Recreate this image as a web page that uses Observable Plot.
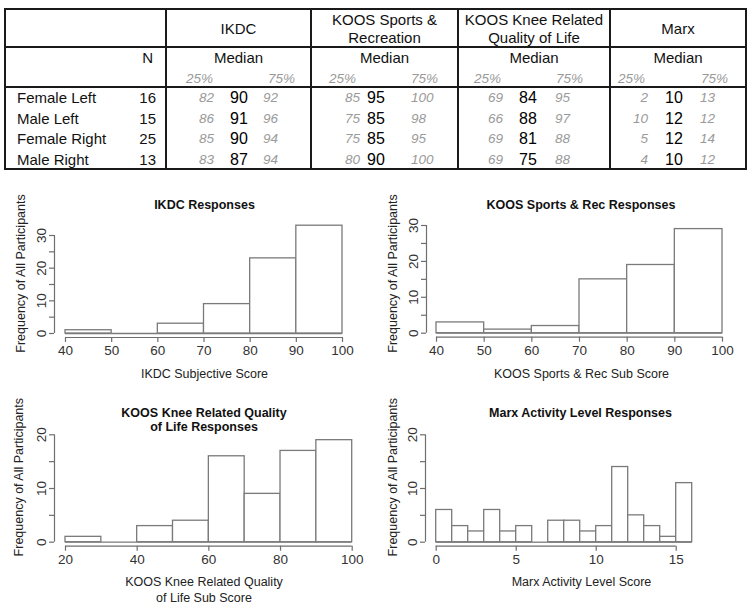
<!DOCTYPE html>
<html><head><meta charset="utf-8">
<script src="https://cdn.jsdelivr.net/npm/d3@7"></script>
<script src="https://cdn.jsdelivr.net/npm/@observablehq/plot@0.6"></script>
<style>
body{margin:0;background:#fff;font-family:"Liberation Sans",Arial,Helvetica,sans-serif;}
#wrap{position:relative;width:750px;height:604px;overflow:hidden;background:#fff;}
.t{position:absolute;white-space:nowrap;line-height:18px;height:18px;color:#111;font-size:15px;}
.q{color:#9a9a9a;font-style:italic;font-size:13.5px;}
.m{font-size:16px;color:#000;}
.ln{position:absolute;background:#1a1a1a;}
.panel{position:absolute;}
</style></head><body><div id="wrap"></div>
<script>
// ---------- table data ----------
const rowLabels = ["Female Left","Male Left","Female Right","Male Right"];
const nValues = [16,15,25,13];
const measureHeaders = [["IKDC"],["KOOS Sports &","Recreation"],["KOOS Knee Related","Quality of Life"],["Marx"]];
const ikdc25 = [82,86,85,83], ikdcMed = [90,91,90,87], ikdc75 = [92,96,94,94];
const sports25 = [85,75,75,80], sportsMed = [95,85,85,90], sports75 = [100,98,95,100];
const qol25 = [69,66,69,69], qolMed = [84,88,81,75], qol75 = [95,97,88,88];
const marx25 = [2,10,5,4], marxMed = [10,12,12,10], marx75 = [13,12,14,12];
const subHeaders = ["N","Median","25%","75%"];

// ---------- histogram data ----------
const ikdcBins = [40,50,60,70,80,90,100];
const ikdcCounts = [1,0,3,9,23,33];
const sportsBins = [40,50,60,70,80,90,100];
const sportsCounts = [3,1,2,15,19,29];
const qolBins = [20,30,40,50,60,70,80,90,100];
const qolCounts = [1,0,3,4,16,9,17,19];
const marxBins = [0,1,2,3,4,5,6,7,8,9,10,11,12,13,14,15,16];
const marxCounts = [6,3,2,6,2,3,0,4,4,2,3,14,5,3,1,11];

const wrap = document.getElementById("wrap");

// ---------- table ----------
function put(text, x, y, align, cls){
  const d = document.createElement("div");
  d.className = "t " + (cls||"");
  d.textContent = text;
  d.style.top = (y - 9) + "px";
  if(align === "l"){ d.style.left = x + "px"; }
  else if(align === "r"){ d.style.right = (750 - x) + "px"; }
  else { d.style.left = x + "px"; d.style.transform = "translateX(-50%)"; }
  wrap.appendChild(d);
}
function line(x, y, w, h){
  const d = document.createElement("div");
  d.className = "ln";
  Object.assign(d.style, {left:x+"px", top:y+"px", width:w+"px", height:h+"px"});
  wrap.appendChild(d);
}
const T = 8, B = 168, L = 4, R = 745;
line(L, T, R - L + 2, 2); line(L, B, R - L + 2, 2);
line(L, T, 2, B - T + 2); line(R, T, 2, B - T + 2);
line(L, 46, R - L + 2, 2); line(L, 86, R - L + 2, 2);
const colEdges = [165, 310, 457, 609];
colEdges.forEach(x => line(x, T, 2, B - T + 2));

const groupLayout = [
  {c:238.5, q25:214, med:239, q75:263, h25:186, h75:295},
  {c:384.5, q25:360, med:376, q75:411, h25:329, h75:438},
  {c:534,   q25:503, med:528, q75:555, h25:474, h75:583},
  {c:678,   q25:648, med:674, q75:700, h25:618, h75:728}
];
const groupData = [
  [ikdc25, ikdcMed, ikdc75],
  [sports25, sportsMed, sports75],
  [qol25, qolMed, qol75],
  [marx25, marxMed, marx75]
];
const rowY = [98, 119, 139, 160];
measureHeaders.forEach((h, i) => {
  const g = groupLayout[i];
  if(h.length === 1) put(h[0], g.c, 29, "c");
  else { put(h[0], g.c, 20, "c"); put(h[1], g.c, 38, "c"); }
  put(subHeaders[1], g.c, 58, "c");
  put(subHeaders[2], g.h25, 79, "l", "q");
  put(subHeaders[3], g.h75, 79, "r", "q");
  const [a, m, b] = groupData[i];
  rowY.forEach((y, r) => {
    put(String(a[r]), g.q25, y, "r", "q");
    put(String(m[r]), g.med, y, "c", "m");
    put(String(b[r]), g.q75, y, "l", "q");
  });
});
put(subHeaders[0], 153, 58, "r");
rowY.forEach((y, r) => {
  put(rowLabels[r], 17, y, "l");
  put(String(nValues[r]), 156, y, "r");
});

// ---------- histograms ----------
const FONT = '"Liberation Sans",Arial,Helvetica,sans-serif';
const AX = "#6e6e6e";
function hist(cfg){
  const data = cfg.counts.map((c, i) => ({x1: cfg.bins[i], x2: cfg.bins[i+1], count: c}));
  const {mL, mR, mT, mB} = cfg;
  const xt = cfg.xTicks, yt = cfg.yTicks;
  const at = (px, py) => ({frameAnchor:"top-left", textAnchor:"middle", lineAnchor:"middle", dx: px - mL, dy: py - mT});
  const marks = [
    Plot.ruleY(data, {x1:"x1", x2:"x2", y:0, stroke:"#7a7a7a", strokeWidth:1.3}),
    Plot.rectY(data, {x1:"x1", x2:"x2", y:"count", fill:"white", stroke:"#7a7a7a", strokeWidth:1.3}),
    Plot.ruleY([0], {x1: xt[0], x2: xt[xt.length-1], dy: 4, stroke: AX, strokeWidth:1.2}),
    Plot.axisX({ticks: xt, tickSize: 5, tickPadding: 3, dy: 4, stroke: AX, strokeWidth:1.2, label: null, tickFormat: d => String(d), fontSize: 13.5, fill: "#333"}),
    Plot.ruleX([cfg.bins[0]], {y1: yt[0], y2: yt[yt.length-1], dx: cfg.axDx, stroke: AX, strokeWidth:1.2}),
    Plot.axisY({ticks: yt, tickSize: 5, tickPadding: 4, dx: cfg.axDx, tickRotate: -90, stroke: AX, strokeWidth:1.2, label: null,
      tickFormat: d => cfg.yLabels.includes(d) ? String(d) : "", fontSize: 13.5, fill: "#333"}),
    Plot.text([cfg.title], {...at(cfg.titlePos[0], cfg.titlePos[1]), fontWeight: "bold", fontSize: 12.5, lineHeight: 1.15, fill: "#111"}),
    Plot.text([cfg.xLabel], {...at(cfg.xLabelPos[0], cfg.xLabelPos[1]), fontSize: 12.5, lineHeight: 1.3, fill: "#222"}),
    Plot.text([cfg.yLabel], {...at(cfg.yLabelPos[0], cfg.yLabelPos[1]), rotate: -90, fontSize: 12.5, fill: "#222"})
  ];
  const svg = Plot.plot({
    width: 375, height: cfg.h,
    marginLeft: mL, marginRight: mR, marginTop: mT, marginBottom: mB,
    x: {domain: [cfg.bins[0], cfg.bins[cfg.bins.length-1]]},
    y: {domain: [yt[0], yt[yt.length-1]]},
    style: {fontFamily: FONT, fontSize: "12.5px", background: "transparent", overflow: "visible"},
    marks
  });
  const holder = document.createElement("div");
  holder.className = "panel";
  holder.style.left = cfg.left + "px";
  holder.style.top = cfg.top + "px";
  holder.appendChild(svg);
  wrap.appendChild(holder);
}

const yLabel = "Frequency of All Participants";
hist({bins: ikdcBins, counts: ikdcCounts, left: 0, top: 180, h: 205, mL: 65, mR: 33, mT: 55, mB: 52, axDx: -11,
  xTicks: [40,50,60,70,80,90,100], yTicks: [0,5,10,15,20,25,30], yLabels: [0,10,20,30],
  title: "IKDC Responses", titlePos: [204, 24], xLabel: "IKDC Subjective Score", xLabelPos: [204, 192],
  yLabel, yLabelPos: [20, 93]});
hist({bins: sportsBins, counts: sportsCounts, left: 375, top: 180, h: 205, mL: 61, mR: 28, mT: 45, mB: 52.3, axDx: -10,
  xTicks: [40,50,60,70,80,90,100], yTicks: [0,5,10,15,20,25,30], yLabels: [0,10,20,30],
  title: "KOOS Sports & Rec Responses", titlePos: [205.5, 24], xLabel: "KOOS Sports & Rec Sub Score", xLabelPos: [206, 192],
  yLabel, yLabelPos: [17, 93]});
hist({bins: qolBins, counts: qolCounts, left: 0, top: 385, h: 219, mL: 65, mR: 23.3, mT: 49.3, mB: 62.3, axDx: -11,
  xTicks: [20,40,60,80,100], yTicks: [0,5,10,15,20], yLabels: [0,10,20],
  title: "KOOS Knee Related Quality\nof Life Responses", titlePos: [203.5, 34], xLabel: "KOOS Knee Related Quality\nof Life Sub Score", xLabelPos: [203.5, 203],
  yLabel, yLabelPos: [18, 91.7]});
hist({bins: marxBins, counts: marxCounts, left: 375, top: 385, h: 219, mL: 60.7, mR: 58.3, mT: 49.3, mB: 62.3, axDx: -10.7,
  xTicks: [0,5,10,15], yTicks: [0,5,10,15,20], yLabels: [0,10,20],
  title: "Marx Activity Level Responses", titlePos: [205, 26.7], xLabel: "Marx Activity Level Score", xLabelPos: [206, 195.7],
  yLabel, yLabelPos: [17, 91.7]});
</script></body></html>
